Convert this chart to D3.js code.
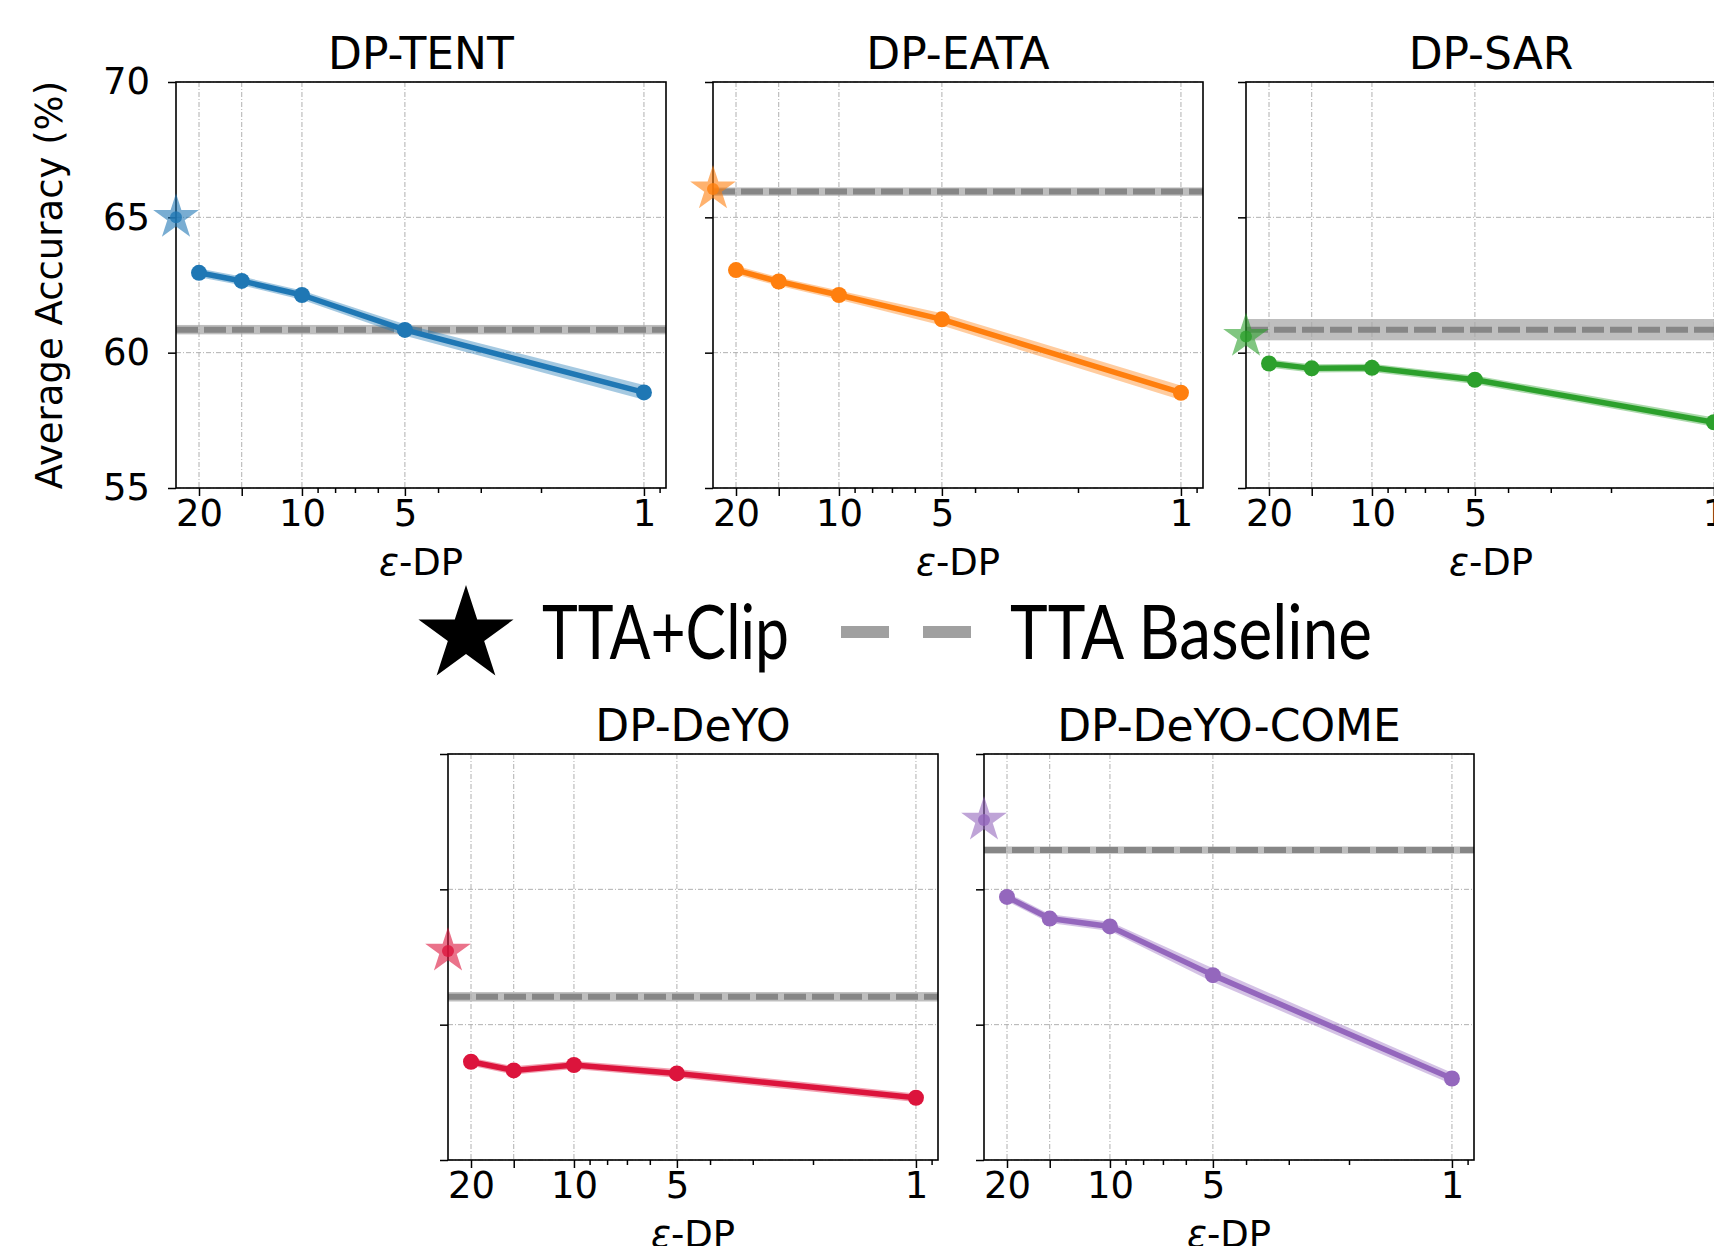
<!DOCTYPE html>
<html>
<head>
<meta charset="utf-8">
<script src="https://cdn.jsdelivr.net/npm/d3@7"></script>
<style>
  body { margin: 0; background: #fff; }
  svg { display: block; }
</style>
</head>
<body>
<svg id="chart" width="1714" height="1246"></svg>
<script>
// privacy budgets on the x axis
var eps = [20, 15, 10, 5, 1];

var titles = ["DP-TENT", "DP-EATA", "DP-SAR", "DP-DeYO", "DP-DeYO-COME"];
var colors = ["#1f77b4", "#ff7f0e", "#2ca02c", "#dc143c", "#9467bd"];

// mean accuracy (%) per epsilon, and its spread
var tentAcc = [62.95, 62.65, 62.13, 60.84, 58.53];
var eataAcc = [63.05, 62.63, 62.13, 61.23, 58.52];
var sarAcc  = [59.60, 59.42, 59.44, 59.00, 57.43];
var deyoAcc = [58.63, 58.31, 58.51, 58.20, 57.30];
var comeAcc = [64.72, 63.92, 63.63, 61.83, 58.01];

var tentStd = [0.05, 0.05, 0.06, 0.10, 0.16];
var eataStd = [0.05, 0.05, 0.06, 0.12, 0.16];
var sarStd  = [0.04, 0.04, 0.04, 0.05, 0.06];
var deyoStd = [0.04, 0.04, 0.04, 0.05, 0.05];
var comeStd = [0.05, 0.05, 0.06, 0.14, 0.10];

// TTA+Clip (star) and TTA baseline (dashed) per method
var clipAcc = [65.00, 66.05, 60.60, 62.72, 67.56];
var baseAcc = [60.85, 65.95, 60.85, 61.03, 66.45];
var baseStd = [0.10, 0.08, 0.32, 0.10, 0.06];

var yTicks = [55, 60, 65, 70];
var xMajor = [20, 15, 10, 5, 1];
var xLabeled = [20, 10, 5, 1];
var xMinor = [9, 8, 7, 6, 4, 3, 2, 0.9];

var series = [tentAcc, eataAcc, sarAcc, deyoAcc, comeAcc];
var spread = [tentStd, eataStd, sarStd, deyoStd, comeStd];

// panel placement
var W = 490, H = 406;
var origins = [[176, 82], [713, 82], [1246, 82], [448, 754], [984, 754]];

var svg = d3.select("#chart");
var font = "DejaVu Sans, sans-serif";

var x = d3.scaleLog().domain([23.35, 0.862]).range([0, W]);
var y = d3.scaleLinear().domain([55, 70]).range([H, 0]);

var star = function (r) {
  return d3.symbol().type(d3.symbolStar).size(r * r / 0.8908130915292852)();
};

titles.forEach(function (title, i) {
  var g = svg.append("g")
    .attr("transform", "translate(" + origins[i][0] + "," + origins[i][1] + ")");
  var col = colors[i];
  var pts = eps.map(function (e, j) {
    return { e: e, v: series[i][j], s: spread[i][j] };
  });

  // grid
  g.append("g").selectAll("line.gx")
    .data(xMajor).enter().append("line")
    .attr("x1", function (d) { return x(d); })
    .attr("x2", function (d) { return x(d); })
    .attr("y1", 0).attr("y2", H)
    .attr("stroke", "#b0b0b0").attr("stroke-width", 1)
    .attr("stroke-dasharray", "5,2,1,2");
  g.append("g").selectAll("line.gy")
    .data(yTicks).enter().append("line")
    .attr("x1", 0).attr("x2", W)
    .attr("y1", function (d) { return y(d); })
    .attr("y2", function (d) { return y(d); })
    .attr("stroke", "#b0b0b0").attr("stroke-width", 1)
    .attr("stroke-dasharray", "5,2,1,2");

  // baseline band + dashed line
  g.append("rect")
    .attr("x", 0).attr("width", W)
    .attr("y", y(baseAcc[i] + baseStd[i]) - 2)
    .attr("height", y(baseAcc[i] - baseStd[i]) - y(baseAcc[i] + baseStd[i]) + 4)
    .attr("fill", "#a8a8a8").attr("opacity", 0.75);
  g.append("line")
    .attr("x1", 0).attr("x2", W)
    .attr("y1", y(baseAcc[i])).attr("y2", y(baseAcc[i]))
    .attr("stroke", "#868686").attr("stroke-width", 6)
    .attr("stroke-dasharray", "22,6");

  // spread band of the series
  var area = d3.area()
    .x(function (d) { return x(d.e); })
    .y0(function (d) { return y(d.v - d.s) + 3; })
    .y1(function (d) { return y(d.v + d.s) - 3; });
  g.append("path").datum(pts)
    .attr("d", area)
    .attr("fill", col).attr("opacity", 0.4);

  var line = d3.line()
    .x(function (d) { return x(d.e); })
    .y(function (d) { return y(d.v); });
  g.append("path").datum(pts)
    .attr("d", line)
    .attr("fill", "none")
    .attr("stroke", col).attr("stroke-width", 5.5)
    .attr("stroke-linejoin", "round");
  g.selectAll("circle.pt")
    .data(pts).enter().append("circle")
    .attr("cx", function (d) { return x(d.e); })
    .attr("cy", function (d) { return y(d.v); })
    .attr("r", 8)
    .attr("fill", col);

  // axes
  var ya = d3.axisLeft(y).tickValues(yTicks).tickSize(8).tickPadding(18)
    .tickFormat(i === 0 ? d3.format("d") : function () { return ""; });
  g.append("g").call(ya);

  var xa = d3.axisBottom(x).tickValues(xMajor).tickSize(8).tickPadding(4)
    .tickFormat(function (d) { return xLabeled.indexOf(d) >= 0 ? d : ""; });
  g.append("g").attr("transform", "translate(0," + H + ")").call(xa);
  var xm = d3.axisBottom(x).tickValues(xMinor).tickSize(5)
    .tickFormat(function () { return ""; });
  g.append("g").attr("transform", "translate(0," + H + ")").call(xm);

  g.selectAll(".domain").remove();
  g.selectAll(".tick line").attr("stroke", "#000").attr("stroke-width", 1.5);
  g.selectAll(".tick text")
    .attr("font-family", font).attr("font-size", 37).attr("fill", "#000");

  g.append("rect")
    .attr("width", W).attr("height", H)
    .attr("fill", "none").attr("stroke", "#000").attr("stroke-width", 1.6);

  // TTA+Clip star on the left spine
  g.append("path")
    .attr("d", star(24))
    .attr("transform", "translate(0," + y(clipAcc[i]) + ")")
    .attr("fill", col).attr("opacity", 0.6);
  g.append("circle")
    .attr("cx", 0).attr("cy", y(clipAcc[i])).attr("r", 6)
    .attr("fill", col).attr("opacity", 0.8);

  // title and x label
  g.append("text")
    .attr("x", W / 2).attr("y", -13)
    .attr("text-anchor", "middle")
    .attr("font-family", font).attr("font-size", 44)
    .text(title);
  var xl = g.append("text")
    .attr("x", W / 2).attr("y", H + 87)
    .attr("text-anchor", "middle")
    .attr("font-family", font).attr("font-size", 37);
  xl.append("tspan").attr("font-style", "italic").text("ε");
  xl.append("tspan").text("-DP");
});

svg.append("text")
  .attr("transform", "translate(62,285) rotate(-90)")
  .attr("text-anchor", "middle")
  .attr("font-family", font).attr("font-size", 37)
  .text("Average Accuracy (%)");

// legend
var legend = svg.append("g");
legend.append("path")
  .attr("d", star(50))
  .attr("transform", "translate(466,635)")
  .attr("fill", "#000");
legend.append("text")
  .attr("x", 542).attr("y", 659)
  .attr("font-family", "Lato, sans-serif").attr("font-size", 76)
  .attr("textLength", 247).attr("lengthAdjust", "spacingAndGlyphs")
  .text("TTA+Clip");
legend.append("line")
  .attr("x1", 841).attr("x2", 973)
  .attr("y1", 632).attr("y2", 632)
  .attr("stroke", "#a0a0a0").attr("stroke-width", 12)
  .attr("stroke-dasharray", "48,34");
legend.append("text")
  .attr("x", 1010).attr("y", 659)
  .attr("font-family", "Lato, sans-serif").attr("font-size", 76)
  .attr("textLength", 362).attr("lengthAdjust", "spacingAndGlyphs")
  .text("TTA Baseline");
</script>
</body>
</html>
